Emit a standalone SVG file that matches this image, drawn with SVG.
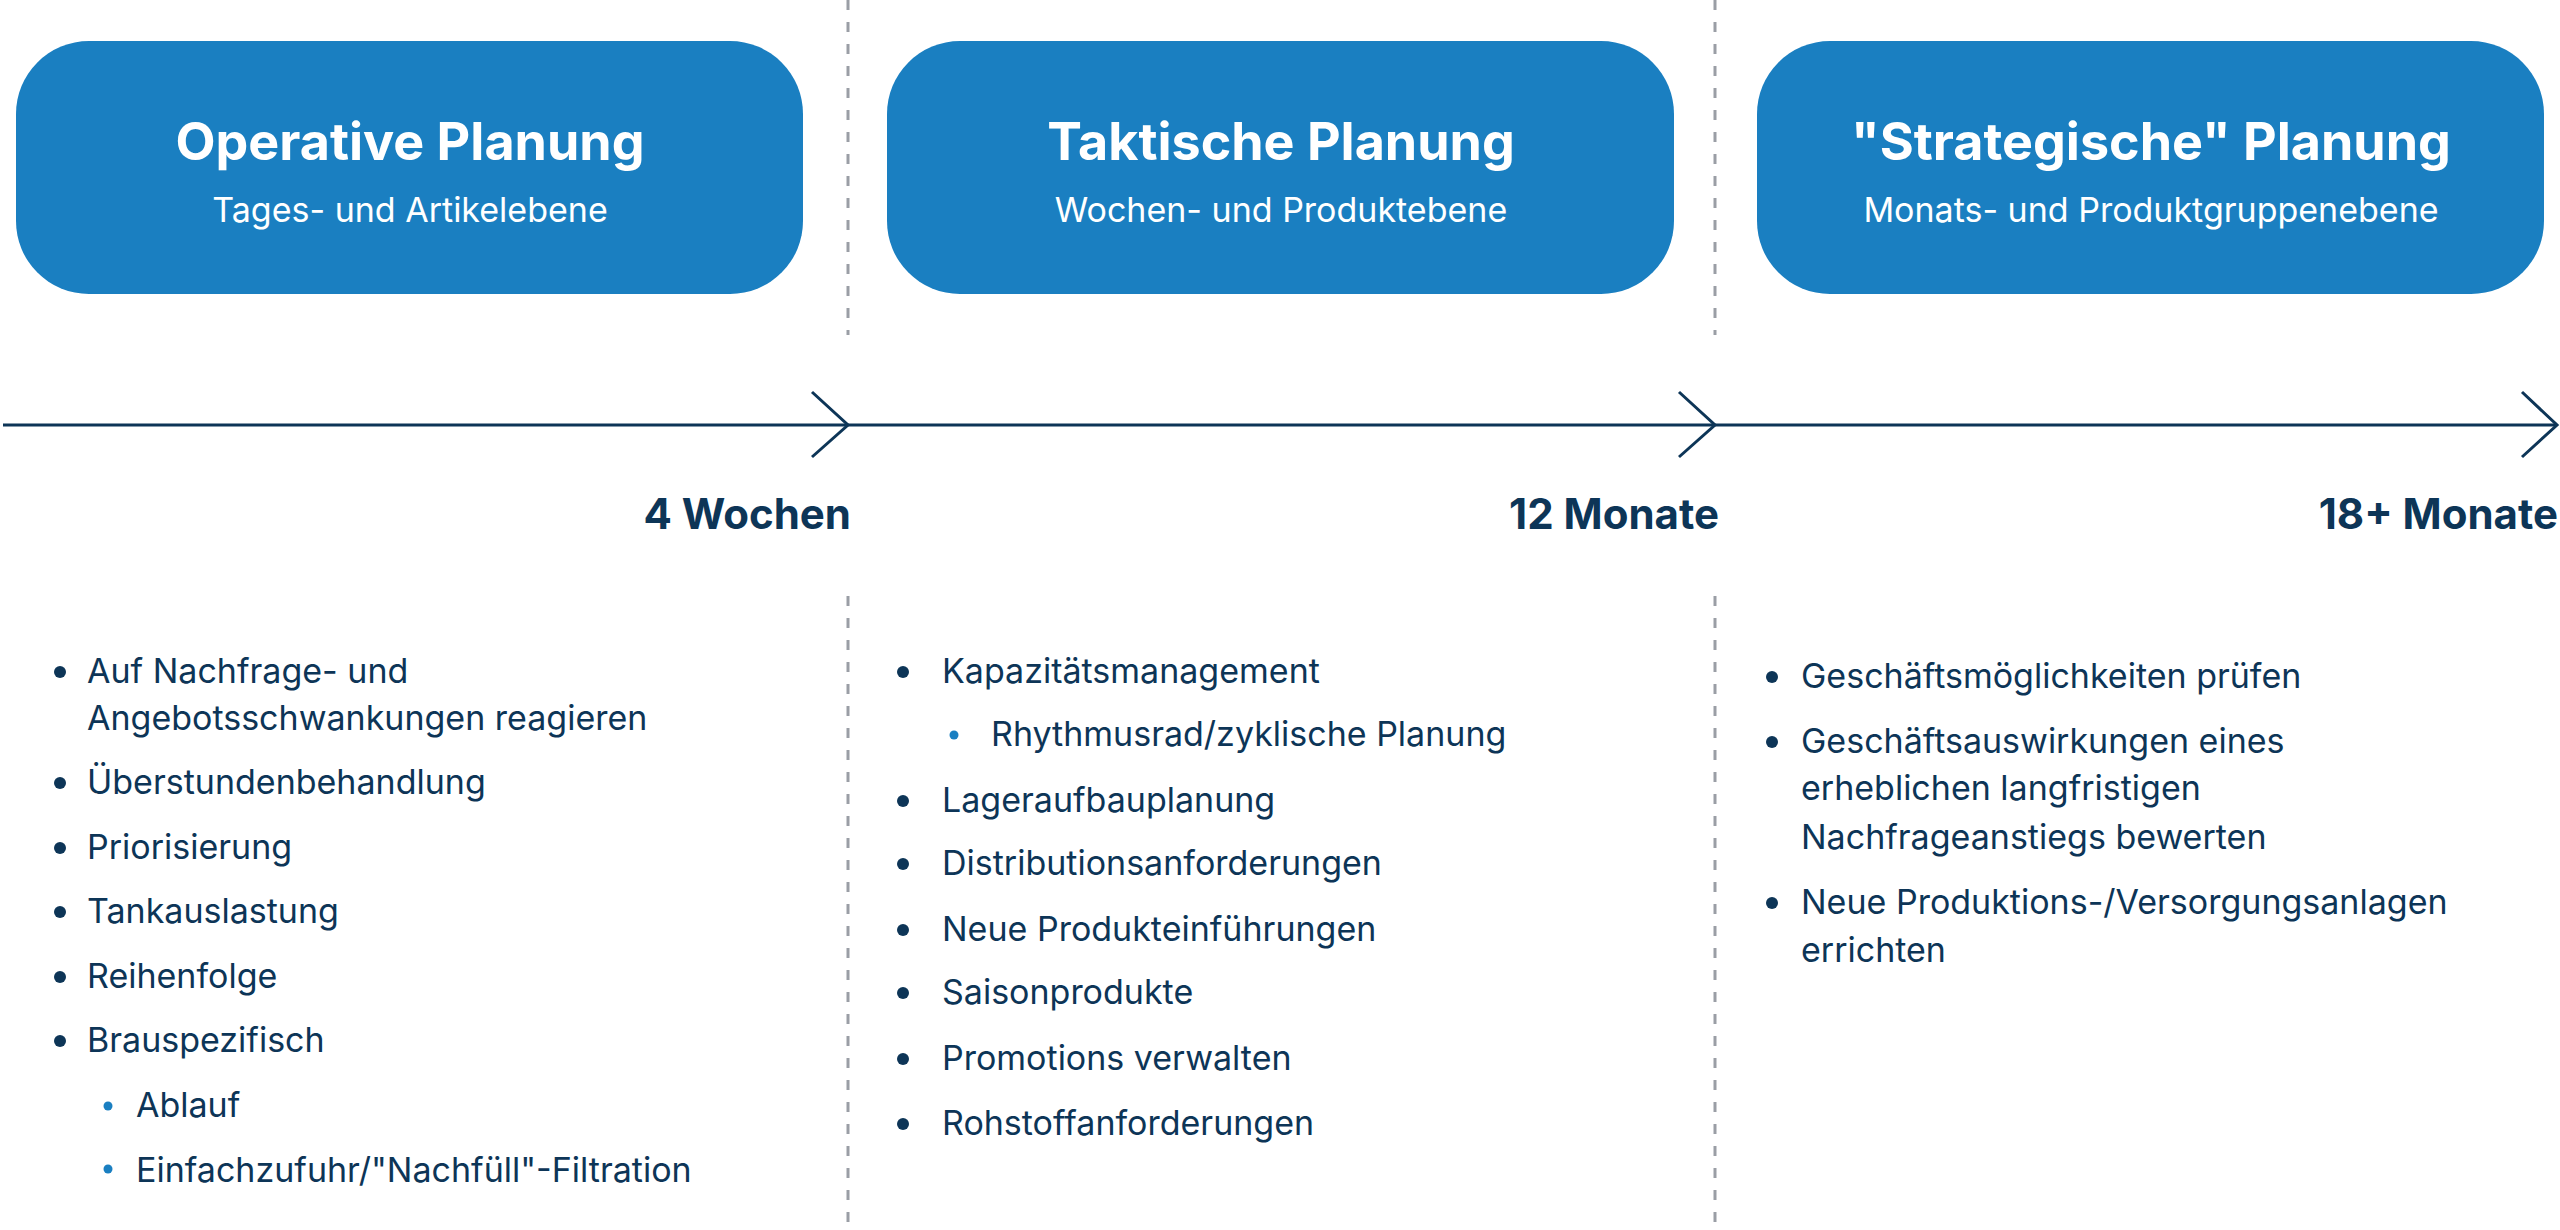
<svg xmlns="http://www.w3.org/2000/svg" width="2560" height="1230" viewBox="0 0 2560 1230">
<style>
.box{fill:#1a7fc1}
.t{font-family:Inter,"Liberation Sans",sans-serif;fill:#fff;text-anchor:middle}
.h{font-size:52px;font-weight:700}
.s{font-size:34px}
.d{stroke:#9a9ea5;stroke-width:3;stroke-dasharray:10 12}
.ax{stroke:#0d3557;stroke-width:3;fill:none}
.lab{font-family:Inter,"Liberation Sans",sans-serif;font-size:42px;font-weight:700;fill:#0d3557;text-anchor:end}
.b{font-family:Inter,"Liberation Sans",sans-serif;font-size:34px;fill:#0d3557}
.dot{fill:#0d3557}
.sd{fill:#1a7fc1}
</style>
<g id="dividers">
<line class="d" x1="848" y1="0" x2="848" y2="335"/><line class="d" x1="848" y1="596" x2="848" y2="1230"/>
<line class="d" x1="1715" y1="0" x2="1715" y2="335"/><line class="d" x1="1715" y1="596" x2="1715" y2="1230"/>
</g>
<g id="op"><rect class="box" x="16" y="41" width="787" height="253" rx="73"/>
<text class="t h" x="410" y="160">Operative Planung</text><text class="t s" x="410" y="222">Tages- und Artikelebene</text></g>
<g id="tak"><rect class="box" x="887" y="41" width="787" height="253" rx="73"/>
<text class="t h" x="1281" y="160">Taktische Planung</text><text class="t s" x="1281" y="222">Wochen- und Produktebene</text></g>
<g id="str"><rect class="box" x="1757" y="41" width="787" height="253" rx="73"/>
<text class="t h" x="2151" y="160">"Strategische" Planung</text><text class="t s" x="2151" y="222">Monats- und Produktgruppenebene</text></g>
<g id="connectors">
<line class="ax" x1="3" y1="425" x2="2557" y2="425"/>
<path class="ax" d="M812 392 L848 425 L812 457"/>
<path class="ax" d="M1679 392 L1715 425 L1679 457"/>
<path class="ax" d="M2522 392 L2557 425 L2522 457"/>
</g>
<g id="labels">
<text class="lab" x="851" y="529">4 Wochen</text>
<text class="lab" x="1719" y="529">12 Monate</text>
<text class="lab" x="2558" y="529">18+ Monate</text>
</g>
<g id="col1">
<circle class="dot" cx="60" cy="672" r="6"/><text class="b" x="87" y="683">Auf Nachfrage- und</text>
<text class="b" x="87" y="730">Angebotsschwankungen reagieren</text>
<circle class="dot" cx="60" cy="783" r="6"/><text class="b" x="87" y="794">Überstundenbehandlung</text>
<circle class="dot" cx="60" cy="848" r="6"/><text class="b" x="87" y="859">Priorisierung</text>
<circle class="dot" cx="60" cy="912" r="6"/><text class="b" x="87" y="923">Tankauslastung</text>
<circle class="dot" cx="60" cy="977" r="6"/><text class="b" x="87" y="988">Reihenfolge</text>
<circle class="dot" cx="60" cy="1041" r="6"/><text class="b" x="87" y="1052">Brauspezifisch</text>
<circle class="sd" cx="108" cy="1106" r="4.5"/><text class="b" x="136" y="1117">Ablauf</text>
<circle class="sd" cx="108" cy="1169" r="4.5"/><text class="b" x="136" y="1182">Einfachzufuhr/"Nachfüll"-Filtration</text>
</g>
<g id="col2">
<circle class="dot" cx="903" cy="672" r="6"/><text class="b" x="942" y="683">Kapazitätsmanagement</text>
<circle class="sd" cx="954" cy="735" r="4.5"/><text class="b" x="991" y="746">Rhythmusrad/zyklische Planung</text>
<circle class="dot" cx="903" cy="801" r="6"/><text class="b" x="942" y="812">Lageraufbauplanung</text>
<circle class="dot" cx="903" cy="864" r="6"/><text class="b" x="942" y="875">Distributionsanforderungen</text>
<circle class="dot" cx="903" cy="930" r="6"/><text class="b" x="942" y="941">Neue Produkteinführungen</text>
<circle class="dot" cx="903" cy="993" r="6"/><text class="b" x="942" y="1004">Saisonprodukte</text>
<circle class="dot" cx="903" cy="1059" r="6"/><text class="b" x="942" y="1070">Promotions verwalten</text>
<circle class="dot" cx="903" cy="1124" r="6"/><text class="b" x="942" y="1135">Rohstoffanforderungen</text>
</g>
<g id="col3">
<circle class="dot" cx="1772" cy="677" r="6"/><text class="b" x="1801" y="688">Geschäftsmöglichkeiten prüfen</text>
<circle class="dot" cx="1772" cy="742" r="6"/><text class="b" x="1801" y="753">Geschäftsauswirkungen eines</text>
<text class="b" x="1801" y="800">erheblichen langfristigen</text>
<text class="b" x="1801" y="849">Nachfrageanstiegs bewerten</text>
<circle class="dot" cx="1772" cy="903" r="6"/><text class="b" x="1801" y="914">Neue Produktions-/Versorgungsanlagen</text>
<text class="b" x="1801" y="962">errichten</text>
</g>
</svg>
